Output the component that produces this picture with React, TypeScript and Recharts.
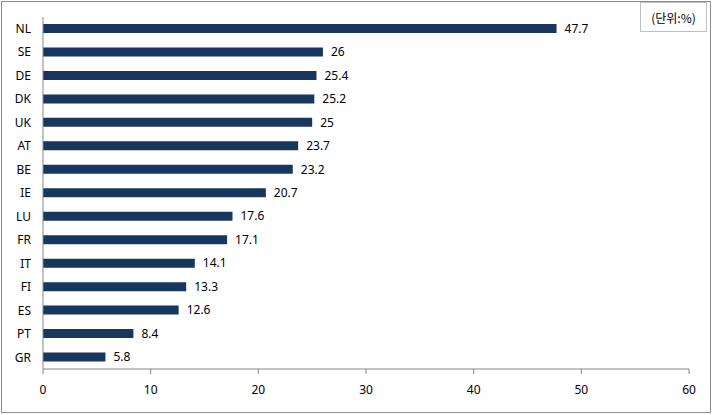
import React from 'react';
import { BarChart, Bar, XAxis, YAxis, LabelList } from 'recharts';

const countries = ['NL', 'SE', 'DE', 'DK', 'UK', 'AT', 'BE', 'IE', 'LU', 'FR', 'IT', 'FI', 'ES', 'PT', 'GR'];
const values = [47.7, 26, 25.4, 25.2, 25, 23.7, 23.2, 20.7, 17.6, 17.1, 14.1, 13.3, 12.6, 8.4, 5.8];
const xTicks = [0, 10, 20, 30, 40, 50, 60];
const unitLabel = '(단위:%)';

const data = countries.map((name, i) => ({ name, value: values[i] }));
const boundaryTicks = Array.from({ length: countries.length + 1 }, (_, i) => i);

const AXIS = '#868686';

export default function App() {
  return (
    <div style={{ position: 'absolute', left: 0, top: 0, width: 713, height: 415, fontFamily: '"Noto Sans", sans-serif', background: '#fff' }}>
      <div style={{ position: 'absolute', left: 1, top: 1, width: 710, height: 412, boxSizing: 'border-box', border: '1px solid #8c8c8c' }} />
      <BarChart
        width={713}
        height={415}
        data={data}
        layout="vertical"
        margin={{ top: 17, right: 24, bottom: 0, left: 0 }}
        barCategoryGap={0}
      >
        <YAxis
          yAxisId="grid"
          type="number"
          domain={[0, countries.length]}
          ticks={boundaryTicks}
          tick={false}
          tickSize={5}
          tickLine={{ stroke: AXIS }}
          axisLine={false}
          width={0}
          interval={0}
        />
        <YAxis
          dataKey="name"
          type="category"
          width={43}
          tickLine={false}
          tickSize={0}
          tickMargin={12}
          axisLine={{ stroke: AXIS }}
          tick={{ fontSize: 12, fill: '#000' }}
          interval={0}
        />
        <XAxis
          type="number"
          domain={[0, 60]}
          ticks={xTicks}
          interval={0}
          height={46}
          tickSize={5}
          tickMargin={11}
          axisLine={{ stroke: AXIS }}
          tickLine={{ stroke: AXIS }}
          tick={{ fontSize: 12, fill: '#000' }}
        />
        <Bar dataKey="value" fill="#17375E" barSize={9} isAnimationActive={false}>
          <LabelList dataKey="value" position="right" offset={8} style={{ fontSize: 12, fill: '#000' }} />
        </Bar>
      </BarChart>
      <div
        style={{
          position: 'absolute',
          left: 640,
          top: 2,
          width: 67,
          height: 30,
          boxSizing: 'border-box',
          border: '1px solid #bfbfbf',
          background: '#fff',
          fontFamily: '"Noto Sans CJK KR", sans-serif',
          fontSize: 12,
          color: '#000',
          display: 'flex',
          alignItems: 'center',
          justifyContent: 'center',
        }}
      >
        {unitLabel}
      </div>
    </div>
  );
}
